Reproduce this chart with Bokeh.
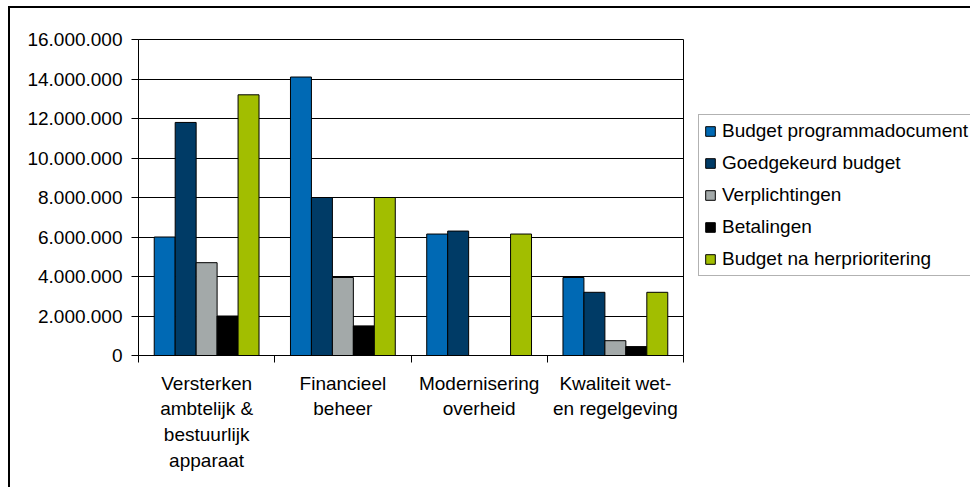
from bokeh.plotting import figure
from bokeh.models import (Range1d, LinearAxis, FixedTicker, Row,
                          CustomJSTickFormatter, Legend, LegendItem, ColumnDataSource, Grid)
from bokeh.embed import file_html
from bokeh.resources import INLINE

categories = ["Versterken\nambtelijk &\nbestuurlijk\napparaat",
              "Financieel\nbeheer",
              "Modernisering\noverheid",
              "Kwaliteit wet-\nen regelgeving"]
series_names = ["Budget programmadocument", "Goedgekeurd budget", "Verplichtingen",
                "Betalingen", "Budget na herprioritering"]
budget_programmadocument = [6000000, 14100000, 6150000, 3950000]
goedgekeurd_budget = [11800000, 8000000, 6300000, 3200000]
verplichtingen = [4700000, 3950000, 0, 750000]
betalingen = [2000000, 1500000, 0, 450000]
budget_na_herprioritering = [13200000, 8000000, 6150000, 3200000]
y_ticks = [0, 2000000, 4000000, 6000000, 8000000, 10000000, 12000000, 14000000, 16000000]

colors = ["#0069B4", "#003B66", "#A3A9A9", "#000000", "#A2BE00"]
FONT = "Liberation Sans"
FS = "19px"

series = [budget_programmadocument, goedgekeurd_budget, verplichtingen, betalingen,
          budget_na_herprioritering]
n = len(categories)

# ---------------- main chart ----------------
p = figure(width=690, height=481, output_backend="svg", toolbar_location=None,
           x_range=Range1d(0, n), y_range=Range1d(0, 16000000),
           x_axis_location=None, y_axis_location=None,
           min_border_left=128, min_border_right=17, min_border_top=31, min_border_bottom=134)
p.margin = (6, 0, 0, 8)
p.styles = {"border-top": "2px solid #000000", "border-left": "2px solid #000000"}
p.background_fill_color = "white"
p.border_fill_color = "white"
p.outline_line_color = "black"
p.outline_line_width = 1

ya = LinearAxis(ticker=FixedTicker(ticks=y_ticks),
                formatter=CustomJSTickFormatter(code='return tick.toFixed(0).replace(/\\B(?=(\\d{3})+(?!\\d))/g, ".");'))
ya.axis_line_color = "black"
ya.major_tick_line_color = "black"
ya.major_tick_out = 7
ya.major_tick_in = 0
ya.minor_tick_line_color = None
ya.major_label_text_font = FONT
ya.major_label_text_font_size = FS
ya.major_label_text_color = "black"
ya.major_label_standoff = 9
p.add_layout(ya, "left")

xb = LinearAxis(ticker=FixedTicker(ticks=list(range(n + 1))),
                formatter=CustomJSTickFormatter(code='return "";'))
xb.axis_line_color = "black"
xb.major_tick_line_color = "black"
xb.major_tick_out = 7
xb.major_tick_in = 0
xb.minor_tick_line_color = None
xb.major_label_text_font_size = "1px"
xb.major_label_standoff = 0
p.add_layout(xb, "below")

xa = LinearAxis(ticker=FixedTicker(ticks=[i + 0.5 for i in range(n)]),
                formatter=CustomJSTickFormatter(args=dict(cats=categories),
                                                code='return cats[Math.floor(tick)];'))
xa.axis_line_color = None
xa.major_tick_line_color = None
xa.major_tick_out = 0
xa.major_tick_in = 0
xa.minor_tick_line_color = None
xa.major_label_text_font = FONT
xa.major_label_text_font_size = FS
xa.major_label_text_color = "black"
xa.major_label_standoff = 10
xa.major_label_text_line_height = 1.23
xa.major_label_orientation = "horizontal"
p.add_layout(xa, "below")

p.xgrid.visible = False
p.ygrid.visible = False
g = Grid(dimension=1, ticker=FixedTicker(ticks=y_ticks), grid_line_color="black", grid_line_width=1)
p.add_layout(g)

bw = 1 / 6.5
offsets = [(0.75 + 0.5 + i) / 6.5 for i in range(5)]
for i in range(5):
    src = ColumnDataSource(dict(x=[k + offsets[i] for k in range(n)], top=series[i]))
    p.vbar(x="x", top="top", width=bw, source=src,
           fill_color=colors[i], line_color="black", line_width=1)

# ---------------- legend panel ----------------
q = figure(width=272, height=481, output_backend="svg", toolbar_location=None,
           x_range=Range1d(0, 1), y_range=Range1d(0, 1),
           x_axis_location=None, y_axis_location=None,
           min_border_left=0, min_border_right=0, min_border_top=0, min_border_bottom=0)
q.margin = (6, 0, 0, 0)
q.styles = {"border-top": "2px solid #000000"}
q.outline_line_color = None
q.background_fill_color = "white"
q.border_fill_color = "white"
q.xgrid.visible = False
q.ygrid.visible = False

items = []
for i in range(5):
    # legend proxy glyph, kept entirely outside the visible ranges
    r = q.vbar(x=[5], bottom=[5], top=[6], width=0.1,
               fill_color=colors[i], line_color="black", line_width=1)
    items.append(LegendItem(label=series_names[i], renderers=[r]))

leg = Legend(items=items, location=(0, 79))
leg.label_text_font = FONT
leg.label_text_font_size = FS
leg.label_text_color = "black"
leg.glyph_width = 12
leg.glyph_height = 12
leg.label_height = 22
leg.label_standoff = 6
leg.spacing = 10
leg.padding = 5
leg.margin = 0
leg.border_line_color = "#666666"
leg.border_line_width = 1
leg.background_fill_color = "white"
leg.background_fill_alpha = 1
q.add_layout(leg, "center")

layout = Row(children=[p, q], spacing=0)
open("out.html", "w").write(file_html(layout, INLINE))
